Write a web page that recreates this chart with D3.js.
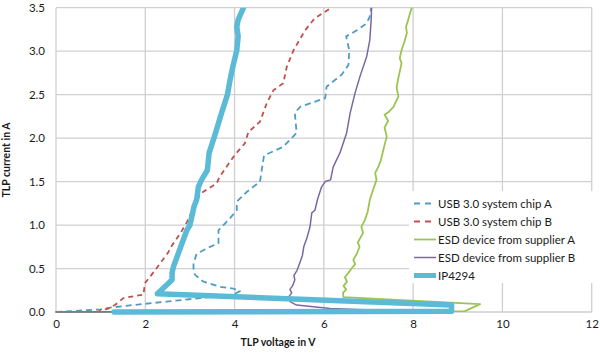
<!DOCTYPE html>
<html><head><meta charset="utf-8">
<script src="https://cdn.jsdelivr.net/npm/d3@7"></script>
<style>
html,body{margin:0;padding:0;background:#fff;}
svg{display:block;font-family:Lato,"Open Sans",sans-serif;}
</style></head>
<body><svg id="chart" width="600" height="356"></svg>
<script>
// ---- data (TLP voltage in V, TLP current in A) ----
const xTicks = [0, 2, 4, 6, 8, 10, 12];
const yTicks = [0.0, 0.5, 1.0, 1.5, 2.0, 2.5, 3.0, 3.5];
const seriesNames = ["USB 3.0 system chip A", "USB 3.0 system chip B", "ESD device from supplier A", "ESD device from supplier B", "IP4294"];

const usbAV = [0, 0.99, 1.21, 1.73, 2.48, 3.23, 3.6, 3.97, 4.12, 3.97, 3.67, 3.30, 3.11, 3.08, 3.08, 3.15, 3.45, 3.64, 3.64, 3.90, 4.05, 4.05, 4.27, 4.57, 4.62, 4.66, 5.09, 5.39, 5.35, 5.47, 6.03, 6.06, 6.40, 6.55, 6.57, 6.50, 6.74, 6.96, 7.03, 7.06];
const usbAI = [0, 0.03, 0.05, 0.08, 0.12, 0.16, 0.18, 0.20, 0.24, 0.27, 0.29, 0.35, 0.43, 0.50, 0.56, 0.67, 0.75, 0.79, 0.94, 1.08, 1.17, 1.27, 1.38, 1.50, 1.67, 1.80, 1.90, 2.06, 2.29, 2.36, 2.46, 2.59, 2.73, 2.84, 3.01, 3.17, 3.24, 3.32, 3.40, 3.50];

const usbBV = [0.9, 1.17, 1.32, 1.51, 1.73, 1.96, 1.99, 2.22, 2.52, 2.55, 2.78, 2.93, 3.23, 3.60, 3.67, 4.01, 4.23, 4.31, 4.57, 4.72, 4.87, 5.09, 5.17, 5.32, 5.58, 5.80, 6.14];
const usbBI = [0.0, 0.04, 0.08, 0.16, 0.18, 0.20, 0.33, 0.48, 0.69, 0.73, 0.90, 1.03, 1.36, 1.48, 1.56, 1.81, 1.94, 2.07, 2.19, 2.40, 2.55, 2.63, 2.82, 3.01, 3.24, 3.38, 3.49];

const esdAV = [0, 9.16, 9.5, 6.44, 6.43, 6.50, 6.44, 6.52, 6.47, 6.55, 6.62, 6.70, 6.66, 6.74, 6.80, 6.76, 6.88, 6.84, 6.92, 6.98, 7.03, 7.10, 7.18, 7.15, 7.22, 7.28, 7.33, 7.41, 7.36, 7.44, 7.36, 7.45, 7.56, 7.67, 7.63, 7.66, 7.74, 7.70, 7.74, 7.80, 7.86, 7.84, 7.89, 7.92, 7.97];
const esdAI = [0, 0.01, 0.09, 0.17, 0.22, 0.26, 0.30, 0.35, 0.40, 0.45, 0.50, 0.55, 0.60, 0.67, 0.75, 0.80, 0.91, 0.98, 1.06, 1.15, 1.29, 1.40, 1.52, 1.60, 1.67, 1.75, 1.86, 2.02, 2.12, 2.20, 2.27, 2.30, 2.36, 2.48, 2.58, 2.67, 2.86, 2.92, 3.01, 3.10, 3.21, 3.28, 3.36, 3.42, 3.50];

const esdBV = [0, 8.6, 7.18, 6.14, 5.39, 5.24, 5.22, 5.28, 5.24, 5.30, 5.35, 5.33, 5.40, 5.45, 5.52, 5.55, 5.62, 5.69, 5.73, 5.80, 5.86, 5.95, 6.03, 6.15, 6.21, 6.36, 6.51, 6.59, 6.70, 6.81, 6.96, 7.03, 7.06, 7.07];
const esdBI = [0, 0.01, 0.02, 0.04, 0.08, 0.12, 0.18, 0.22, 0.26, 0.30, 0.37, 0.42, 0.48, 0.55, 0.65, 0.75, 0.85, 0.98, 1.14, 1.17, 1.30, 1.44, 1.50, 1.52, 1.67, 1.83, 2.06, 2.29, 2.52, 2.71, 2.94, 3.13, 3.36, 3.50];

const ipV = [1.3, 8.86, 8.86, 2.27, 2.52, 2.60, 2.60, 2.63, 2.93, 3.0, 3.09, 3.15, 3.19, 3.26, 3.39, 3.43, 3.55, 3.71, 3.84, 3.90, 3.96, 4.05, 4.08, 4.05, 4.08, 4.20];
const ipI = [0.0, 0.01, 0.08, 0.21, 0.33, 0.37, 0.45, 0.52, 0.94, 1.0, 1.21, 1.29, 1.44, 1.52, 1.63, 1.83, 2.02, 2.29, 2.50, 2.67, 2.82, 3.01, 3.17, 3.28, 3.36, 3.50];

// ---- chart ----
const svg = d3.select("#chart");
const x = d3.scaleLinear().domain([0, 12]).range([56, 591.7]);
const y = d3.scaleLinear().domain([0, 3.5]).range([312, 7.7]);

const gridColor = "#cfcfd4";
const g = svg.append("g");
g.selectAll(".vg").data(xTicks).enter().append("line")
  .attr("x1", d => x(d)).attr("x2", d => x(d)).attr("y1", y(3.5)).attr("y2", y(0))
  .attr("stroke", gridColor).attr("stroke-width", 1.3);
g.selectAll(".hg").data(yTicks).enter().append("line")
  .attr("x1", x(0)).attr("x2", x(12)).attr("y1", d => y(d)).attr("y2", d => y(d))
  .attr("stroke", gridColor).attr("stroke-width", 1.3);

const xAxis = d3.axisBottom(x).tickValues(xTicks).tickSize(0).tickPadding(0).tickFormat(d3.format("d"));
const gx = svg.append("g").attr("transform", `translate(0,${y(0) + 8})`).call(xAxis);
gx.select(".domain").remove();
gx.selectAll("text").attr("font-size", 11.5).attr("fill", "#1a1a1a").attr("font-family", "Lato,'Open Sans',sans-serif");

const yAxis = d3.axisLeft(y).tickValues(yTicks).tickSize(0).tickPadding(0).tickFormat(d3.format(".1f"));
const gy = svg.append("g").attr("transform", `translate(${x(0) - 11},0)`).call(yAxis);
gy.select(".domain").remove();
gy.selectAll("text").attr("font-size", 11.5).attr("fill", "#1a1a1a").attr("font-family", "Lato,'Open Sans',sans-serif");

svg.append("text").attr("x", 278).attr("y", 346).attr("text-anchor", "middle")
  .attr("font-size", 10.5).attr("font-weight", "bold").attr("fill", "#1a1a1a").text("TLP voltage in V");
svg.append("text").attr("transform", "translate(10,160) rotate(-90)").attr("text-anchor", "middle")
  .attr("font-size", 10.5).attr("font-weight", "bold").attr("fill", "#1a1a1a").text("TLP current in A");

const line = d3.line().x(d => x(d[0])).y(d => y(d[1]));
const zip = (a, b) => a.map((v, i) => [v, b[i]]);
const styles = [
  {data: zip(usbAV, usbAI), color: "#4e9cc4", width: 1.8, dash: "6,4"},
  {data: zip(usbBV, usbBI), color: "#c0504d", width: 1.8, dash: "5,4"},
  {data: zip(esdAV, esdAI), color: "#9bc451", width: 1.8, dash: null},
  {data: zip(esdBV, esdBI), color: "#7a68a0", width: 1.5, dash: null},
  {data: zip(ipV, ipI), color: "#5bbad5", width: 5.5, dash: null}
];
svg.append("clipPath").attr("id", "pc").append("rect")
  .attr("x", x(0) - 3).attr("y", y(3.5)).attr("width", x(12) - x(0) + 6).attr("height", y(0) - y(3.5) + 4);
const sg = svg.append("g").attr("clip-path", "url(#pc)");
styles.forEach(s => {
  sg.append("path").attr("d", line(s.data)).attr("fill", "none")
    .attr("stroke", s.color).attr("stroke-width", s.width)
    .attr("stroke-dasharray", s.dash).attr("stroke-linejoin", "round").attr("stroke-linecap", s.dash ? "butt" : "round");
});

const lg = svg.append("g");
lg.append("rect").attr("x", 409).attr("y", 191).attr("width", 191).attr("height", 92).attr("fill", "#fff");
const ly0 = 203.5, ldy = 18;
seriesNames.forEach((n, i) => {
  const s = styles[i];
  const yy = ly0 + i * ldy;
  lg.append("line").attr("x1", 414).attr("x2", 436).attr("y1", yy).attr("y2", yy)
    .attr("stroke", s.color).attr("stroke-width", s.width > 4 ? 5 : s.width)
    .attr("stroke-dasharray", s.dash ? "6,5" : null);
  lg.append("text").attr("x", 438).attr("y", yy + 4).attr("font-size", 11.5).attr("fill", "#1a1a1a").text(n);
});
</script>
</body></html>
